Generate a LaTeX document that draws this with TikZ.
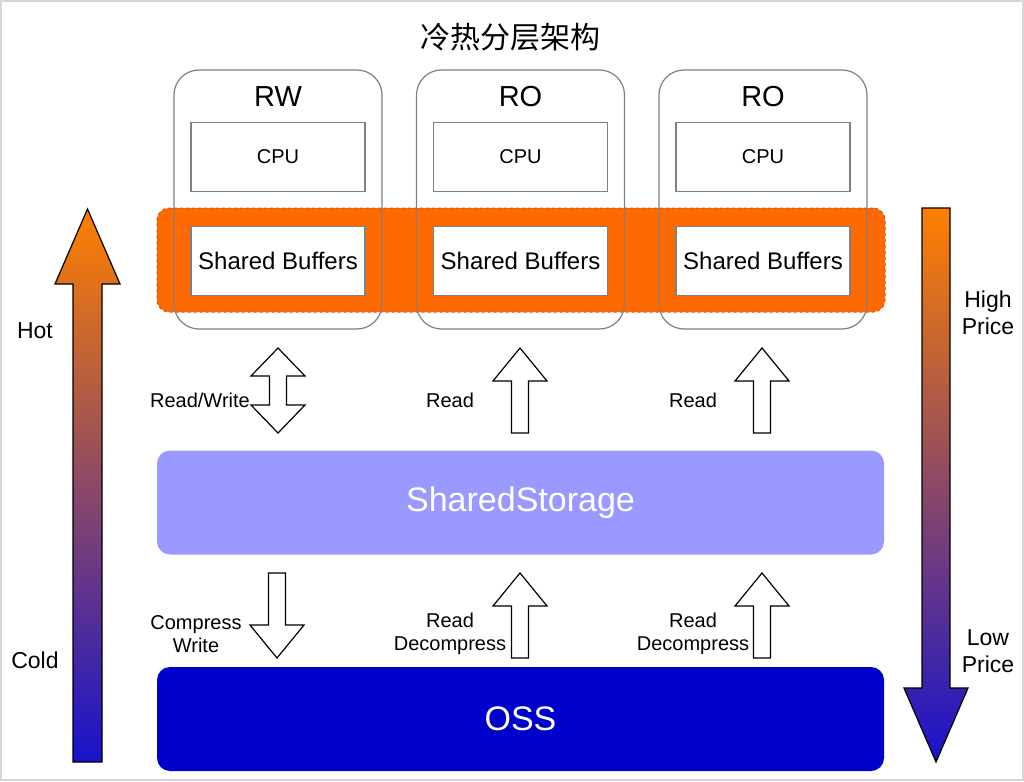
\documentclass[tikz,border=0pt]{standalone}
\usepackage{fontspec}
\setmainfont{Liberation Sans}
\newfontfamily\cjkfont{Noto Sans CJK SC}
\usepackage{xcolor}
\usepackage{tikz}
\usetikzlibrary{positioning}
\definecolor{boxgray}{RGB}{128,128,128}
\definecolor{framegray}{RGB}{215,215,215}
\definecolor{bufforange}{RGB}{255,106,0}
\definecolor{dashred}{RGB}{225,75,30}
\definecolor{storagepurple}{RGB}{153,153,255}
\definecolor{ossblue}{RGB}{0,0,204}
\definecolor{hotorange}{RGB}{255,128,0}
\definecolor{coldblue}{RGB}{24,18,204}

% block arrows: x, top y, bottom y, head length
\newcommand{\blockup}[4]{\draw[blockarrow] (#1,#2) -- (#1+27,#2+#4) -- (#1+8.5,#2+#4) -- (#1+8.5,#3) -- (#1-8.5,#3) -- (#1-8.5,#2+#4) -- (#1-27,#2+#4) -- cycle;}
\newcommand{\blockdown}[4]{\draw[blockarrow] (#1,#3) -- (#1+27,#3-#4) -- (#1+8.5,#3-#4) -- (#1+8.5,#2) -- (#1-8.5,#2) -- (#1-8.5,#3-#4) -- (#1-27,#3-#4) -- cycle;}
\newcommand{\blockboth}[4]{\draw[blockarrow] (#1,#2) -- (#1+27,#2+#4) -- (#1+8.5,#2+#4) -- (#1+8.5,#3-#4) -- (#1+27,#3-#4) -- (#1,#3) -- (#1-27,#3-#4) -- (#1-8.5,#3-#4) -- (#1-8.5,#2+#4) -- (#1-27,#2+#4) -- cycle;}

\begin{document}
\begin{tikzpicture}[x=1pt, y=-1pt,
    tier/.style={rounded corners=25pt, draw=boxgray, line width=1.2pt, minimum width=208pt, minimum height=259pt},
    unit/.style={draw=boxgray, line width=1.2pt, fill=white, minimum width=174pt, minimum height=69pt},
    layer/.style={rounded corners=13pt, minimum width=727pt, minimum height=104pt, text=white, font=\fontsize{34}{40}\selectfont},
    blockarrow/.style={draw=black, line width=1.2pt, fill=white, line join=miter},
    heatarrow/.style={draw=black, line width=1.2pt, top color=hotorange, bottom color=coldblue},
    note/.style={font=\fontsize{20}{23}\selectfont, align=center},
    side/.style={font=\fontsize{23}{27}\selectfont, align=center}
]
    \useasboundingbox (0,0) rectangle (1024,781);
    \draw[framegray, line width=2pt] (1,1) rectangle (1023,780);

    % Title
    \node (title) at (510,37) {\cjkfont\fontsize{30}{34}\selectfont 冷热分层架构};

    % Shared buffers band
    \node[rounded corners=12pt, fill=bufforange, draw=dashred, dashed, line width=1pt,
          minimum width=728pt, minimum height=104pt] (band) at (521,260) {};

    % Compute nodes
    \node[tier] (rw) at (278,199.5) {};
    \node[tier] (ro1) at (520.5,199.5) {};
    \node[tier] (ro2) at (763,199.5) {};
    \node[font=\fontsize{29}{33}\selectfont] (rwlabel) at (278,97) {RW};
    \node[font=\fontsize{29}{33}\selectfont] (ro1label) at (520.5,97) {RO};
    \node[font=\fontsize{29}{33}\selectfont] (ro2label) at (763,97) {RO};
    \node[unit, font=\fontsize{20}{24}\selectfont] (rwcpu) at (278,157) {CPU};
    \node[unit, font=\fontsize{20}{24}\selectfont] (ro1cpu) at (520.5,157) {CPU};
    \node[unit, font=\fontsize{20}{24}\selectfont] (ro2cpu) at (763,157) {CPU};
    \node[unit, font=\fontsize{24}{28}\selectfont] (rwbuf) at (278,261) {Shared Buffers};
    \node[unit, font=\fontsize{24}{28}\selectfont] (ro1buf) at (520.5,261) {Shared Buffers};
    \node[unit, font=\fontsize{24}{28}\selectfont] (ro2buf) at (763,261) {Shared Buffers};

    % Storage layers
    \node[layer, fill=storagepurple] (storage) at (520.5,502.5) {SharedStorage};
    \node[layer, fill=ossblue] (oss) at (520.5,719) {OSS};

    % Data paths
    \blockboth{278}{348}{433}{28}
    \blockup{520}{348}{433}{33}
    \blockup{762}{348}{433}{33}
    \blockdown{277}{573}{658}{33}
    \blockup{520}{573}{658}{33}
    \blockup{762}{573}{658}{33}
    \node[note, anchor=east, inner sep=0pt] (rwpath) at (250,400) {Read/Write};
    \node[note] (ro1path) at (450,400) {Read};
    \node[note] (ro2path) at (693,400) {Read};
    \node[note] (rwoss) at (196,634) {Compress\\Write};
    \node[note] (ro1oss) at (450,634) {Read\\Decompress};
    \node[note] (ro2oss) at (693,634) {Read\\Decompress};

    % Hot / cold and price scales
    \shadedraw[heatarrow] (87.5,209) -- (120,284) -- (102,284) -- (102,762) -- (73,762) -- (73,284) -- (55,284) -- cycle;
    \shadedraw[heatarrow] (936,762) -- (968,688) -- (950,688) -- (950,208) -- (922,208) -- (922,688) -- (904,688) -- cycle;
    \node[side] (hot) at (35,331) {Hot};
    \node[side] (cold) at (35,660) {Cold};
    \node[side] (high) at (988,313) {High\\Price};
    \node[side] (low) at (988,651) {Low\\Price};

\end{tikzpicture}
\end{document}
